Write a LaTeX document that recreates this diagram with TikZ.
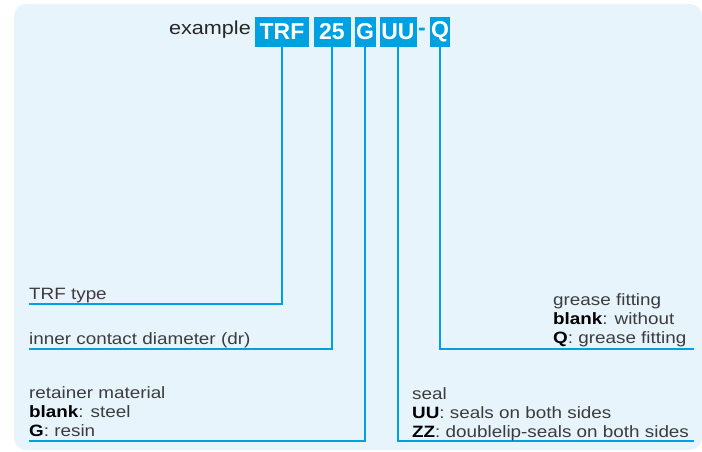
\documentclass[tikz,border=0pt]{standalone}
\usepackage{fontspec}
\setmainfont{Liberation Sans}[FakeStretch=1.15]
\newfontfamily\boxfont{Liberation Sans}[FakeStretch=1.0]
\definecolor{thkblue}{RGB}{0,160,227}
\definecolor{bgblue}{RGB}{231,244,252}
\definecolor{txtgray}{RGB}{60,60,60}
\tikzset{
  codebox/.style={fill=thkblue, text=white, font=\boxfont\fontsize{23}{23}\selectfont\bfseries,
    inner sep=0pt, minimum height=30pt, anchor=center},
  leader/.style={draw=thkblue, line width=2pt},
  lbl/.style={anchor=base west, inner sep=0pt, text=txtgray, font=\fontsize{16.4}{19}\selectfont},
}
\newcommand{\bk}[1]{\textcolor{black}{\bfseries #1}}
\begin{document}
\begin{tikzpicture}[x=1pt,y=-1pt]
\useasboundingbox (0,0) rectangle (702,452);
\fill[bgblue, rounded corners=12pt] (14,4) rectangle (702,450);

\node[anchor=base east, inner sep=0pt, text=black!85, font=\fontsize{18.8}{20}\selectfont] (ex) at (251,35) {example};
\node[codebox, minimum width=54pt] (trf) at (282,32) {TRF};
\node[codebox, minimum width=37pt] (n25) at (332,32) {25};
\node[codebox, minimum width=21pt] (g) at (365,32) {G};
\node[codebox, minimum width=37pt] (uu) at (398,32) {UU};
\node[anchor=center, inner sep=0pt, text=thkblue, font=\boxfont\fontsize{23}{23}\selectfont\bfseries] (dash) at (422,32) {-};
\node[codebox, minimum width=20pt] (q) at (440,32) {Q};

\coordinate (e1) at (29,304);
\coordinate (e2) at (29,349);
\coordinate (e3) at (29,441);
\coordinate (e4) at (694,441);
\coordinate (e5) at (694,349);

\draw[leader] (trf.south) |- (e1);
\draw[leader] (n25.south) |- (e2);
\draw[leader] (g.south) |- (e3);
\draw[leader] (uu.south) |- (e4);
\draw[leader] (q.south) |- (e5);

\node[lbl] (t1) at (29,299) {TRF type};
\node[lbl] (t2) at (29,344) {inner contact diameter (dr)};
\node[lbl] (t3a) at (29,398) {retainer material};
\node[lbl] (t3b) at (29,417) {\bk{blank}: steel};
\node[lbl] (t3c) at (29,436) {\bk{G}: resin};
\node[lbl] (t5a) at (553,305) {grease fitting};
\node[lbl] (t5b) at (553,324) {\bk{blank}: without};
\node[lbl] (t5c) at (553,343) {\bk{Q}: grease fitting};
\node[lbl] (t4a) at (412,399) {seal};
\node[lbl] (t4b) at (412,418) {\bk{UU}: seals on both sides};
\node[lbl] (t4c) at (412,437) {\bk{ZZ}: doublelip-seals on both sides};
\end{tikzpicture}
\end{document}
